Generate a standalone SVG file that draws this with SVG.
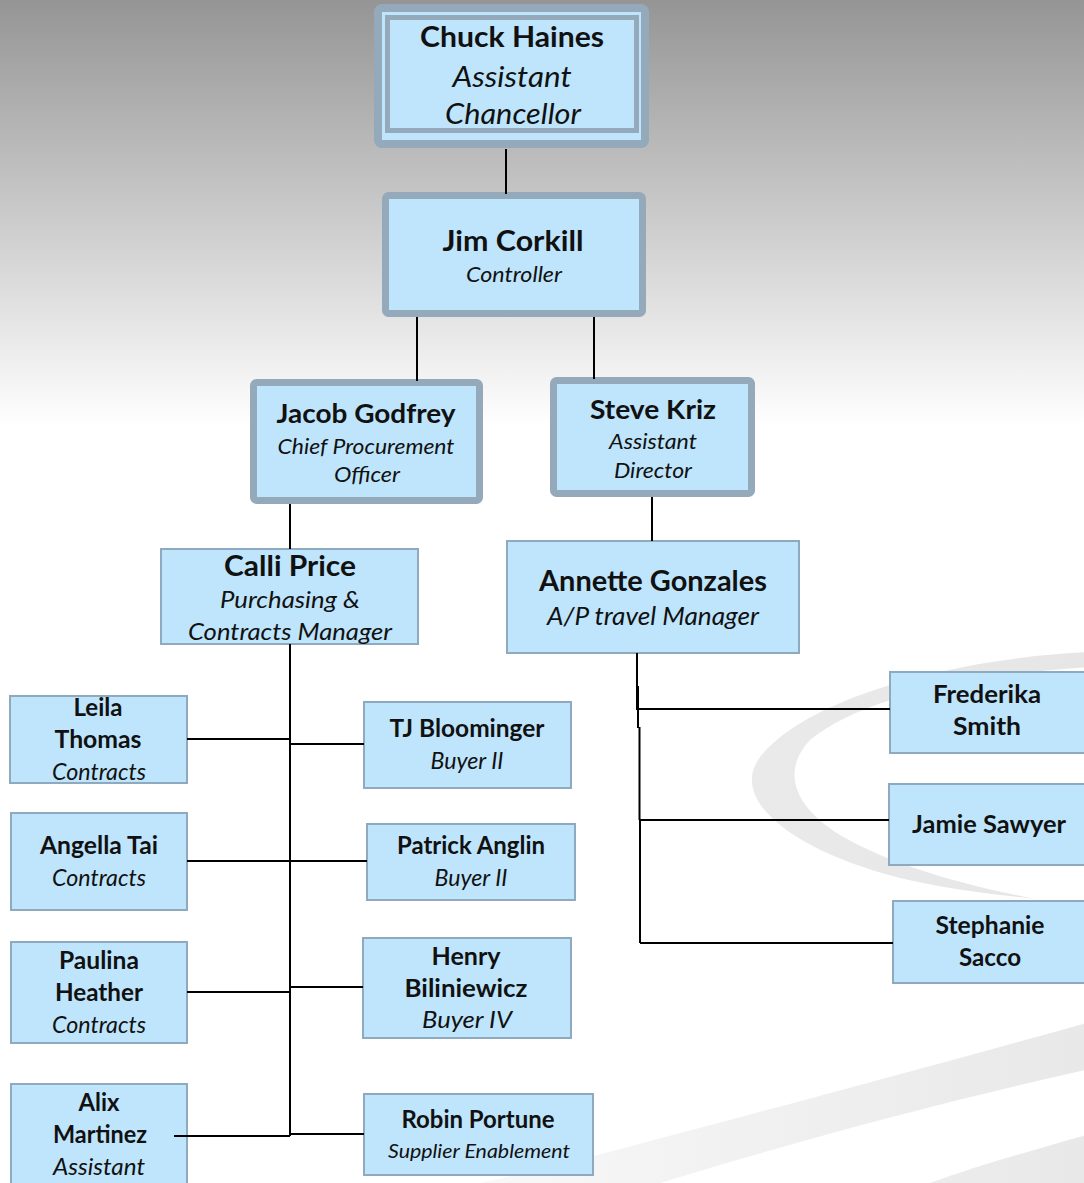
<svg xmlns="http://www.w3.org/2000/svg" width="1084" height="1183" viewBox="0 0 1084 1183">
<defs>
<linearGradient id="bg" x1="0" y1="0" x2="0" y2="1183" gradientUnits="userSpaceOnUse">
<stop offset="0" stop-color="#959595"/>
<stop offset="0.36" stop-color="#ffffff"/>
<stop offset="1" stop-color="#ffffff"/>
</linearGradient>
<linearGradient id="sw" x1="480" y1="0" x2="1090" y2="0" gradientUnits="userSpaceOnUse">
<stop offset="0" stop-color="#f8f8f8"/>
<stop offset="1" stop-color="#e8e8e8"/>
</linearGradient>
<linearGradient id="cr" x1="740" y1="0" x2="1090" y2="0" gradientUnits="userSpaceOnUse">
<stop offset="0" stop-color="#eaeaea"/>
<stop offset="1" stop-color="#e6e6e6"/>
</linearGradient>
</defs>
<style>
.box{fill:#bee5fc;stroke:#8fa9bf;stroke-width:2}
.thick{fill:#bee5fc;stroke:#94aabb;stroke-width:7}
.n{font-family:Lato,"Liberation Sans",sans-serif;font-weight:bold;fill:#111;text-anchor:middle}
.t{font-family:Lato,"Liberation Sans",sans-serif;font-style:italic;fill:#111;text-anchor:middle}
.c{fill:none;stroke:#000;stroke-width:2}
</style>
<rect x="0" y="0" width="1084" height="1183" fill="url(#bg)"/>
<g id="background">
<path d="M1090,652 C950,658 800,700 758,760 C732,800 790,850 900,878 C950,890 1000,895 1035,899 C980,888 900,870 840,835 C792,805 782,770 810,740 C860,700 960,675 1090,667 Z" fill="url(#cr)"/>
<path d="M480,1183 L560,1165 C700,1128 900,1075 1090,1022 L1090,1069 C950,1100 800,1140 660,1183 Z" fill="url(#sw)"/>
<path d="M930,1183 C980,1165 1040,1148 1090,1134 L1090,1183 Z" fill="url(#sw)"/>
</g>

<g id="node-chuck">
<rect x="378" y="8" width="267" height="136" rx="4" fill="#bee5fc" stroke="#94aabb" stroke-width="8"/>
<rect x="387.5" y="17.5" width="249" height="113" fill="#bee5fc" stroke="#94aabb" stroke-width="5"/>
<text class="n" x="512" y="47" font-size="28" textLength="184" lengthAdjust="spacingAndGlyphs">Chuck Haines</text>
<text class="t" x="512" y="87" font-size="28" textLength="119" lengthAdjust="spacingAndGlyphs">Assistant</text>
<text class="t" x="513" y="124" font-size="28" textLength="136" lengthAdjust="spacingAndGlyphs">Chancellor</text>
</g>

<g id="node-jim">
<rect class="thick" x="385.5" y="195.5" width="257" height="118" rx="3"/>
<text class="n" x="513" y="251" font-size="29" textLength="141" lengthAdjust="spacingAndGlyphs">Jim Corkill</text>
<text class="t" x="514" y="282" font-size="21" textLength="96" lengthAdjust="spacingAndGlyphs">Controller</text>
</g>

<g id="node-jacob">
<rect class="thick" x="253.5" y="382.5" width="226" height="118" rx="3"/>
<text class="n" x="366" y="423" font-size="27" textLength="179" lengthAdjust="spacingAndGlyphs">Jacob Godfrey</text>
<text class="t" x="366" y="454" font-size="21" textLength="177" lengthAdjust="spacingAndGlyphs">Chief Procurement</text>
<text class="t" x="367" y="482" font-size="21" textLength="66" lengthAdjust="spacingAndGlyphs">Officer</text>
</g>

<g id="node-steve">
<rect class="thick" x="553.5" y="380.5" width="198" height="113" rx="3"/>
<text class="n" x="653" y="419" font-size="27" textLength="126" lengthAdjust="spacingAndGlyphs">Steve Kriz</text>
<text class="t" x="653" y="449" font-size="21" textLength="88" lengthAdjust="spacingAndGlyphs">Assistant</text>
<text class="t" x="653" y="478" font-size="21" textLength="78" lengthAdjust="spacingAndGlyphs">Director</text>
</g>

<g id="node-calli">
<rect class="box" x="161" y="549" width="257" height="95"/>
<text class="n" x="290" y="576" font-size="29" textLength="132" lengthAdjust="spacingAndGlyphs">Calli Price</text>
<text class="t" x="290" y="608" font-size="23" textLength="140" lengthAdjust="spacingAndGlyphs">Purchasing &amp;</text>
<text class="t" x="290" y="640" font-size="23" textLength="204" lengthAdjust="spacingAndGlyphs">Contracts Manager</text>
</g>

<g id="node-annette">
<rect class="box" x="507" y="541" width="292" height="112"/>
<text class="n" x="653" y="591" font-size="29" textLength="228" lengthAdjust="spacingAndGlyphs">Annette Gonzales</text>
<text class="t" x="653" y="625" font-size="25" textLength="212" lengthAdjust="spacingAndGlyphs">A/P travel Manager</text>
</g>

<g id="node-leila">
<rect class="box" x="10" y="696" width="177" height="87"/>
<text class="n" x="98" y="716" font-size="24" textLength="49" lengthAdjust="spacingAndGlyphs">Leila</text>
<text class="n" x="98" y="748" font-size="24" textLength="87" lengthAdjust="spacingAndGlyphs">Thomas</text>
<text class="t" x="99" y="780" font-size="24" textLength="94" lengthAdjust="spacingAndGlyphs">Contracts</text>
</g>

<g id="node-tj">
<rect class="box" x="364" y="702" width="207" height="86"/>
<text class="n" x="467" y="737" font-size="24" textLength="155" lengthAdjust="spacingAndGlyphs">TJ Bloominger</text>
<text class="t" x="467" y="769" font-size="23" textLength="73" lengthAdjust="spacingAndGlyphs">Buyer II</text>
</g>

<g id="node-angella">
<rect class="box" x="11" y="813" width="176" height="97"/>
<text class="n" x="99" y="854" font-size="24" textLength="118" lengthAdjust="spacingAndGlyphs">Angella Tai</text>
<text class="t" x="99" y="886" font-size="24" textLength="94" lengthAdjust="spacingAndGlyphs">Contracts</text>
</g>

<g id="node-patrick">
<rect class="box" x="367" y="824" width="208" height="76"/>
<text class="n" x="471" y="854" font-size="24" textLength="148" lengthAdjust="spacingAndGlyphs">Patrick Anglin</text>
<text class="t" x="471" y="886" font-size="23" textLength="73" lengthAdjust="spacingAndGlyphs">Buyer II</text>
</g>

<g id="node-paulina">
<rect class="box" x="11" y="942" width="176" height="101"/>
<text class="n" x="99" y="969" font-size="24" textLength="80" lengthAdjust="spacingAndGlyphs">Paulina</text>
<text class="n" x="99" y="1001" font-size="24" textLength="88" lengthAdjust="spacingAndGlyphs">Heather</text>
<text class="t" x="99" y="1033" font-size="24" textLength="94" lengthAdjust="spacingAndGlyphs">Contracts</text>
</g>

<g id="node-henry">
<rect class="box" x="363" y="938" width="208" height="100"/>
<text class="n" x="466" y="965" font-size="24" textLength="69" lengthAdjust="spacingAndGlyphs">Henry</text>
<text class="n" x="466" y="997" font-size="24" textLength="123" lengthAdjust="spacingAndGlyphs">Biliniewicz</text>
<text class="t" x="467" y="1028" font-size="24" textLength="90" lengthAdjust="spacingAndGlyphs">Buyer IV</text>
</g>

<g id="node-alix">
<rect class="box" x="11" y="1084" width="176" height="110"/>
<text class="n" x="99" y="1111" font-size="24" textLength="41" lengthAdjust="spacingAndGlyphs">Alix</text>
<text class="n" x="100" y="1143" font-size="24" textLength="94" lengthAdjust="spacingAndGlyphs">Martinez</text>
<text class="t" x="99" y="1175" font-size="24" textLength="92" lengthAdjust="spacingAndGlyphs">Assistant</text>
</g>

<g id="node-robin">
<rect class="box" x="364" y="1094" width="229" height="81"/>
<text class="n" x="478" y="1128" font-size="24" textLength="153" lengthAdjust="spacingAndGlyphs">Robin Portune</text>
<text class="t" x="479" y="1158" font-size="20" textLength="182" lengthAdjust="spacingAndGlyphs">Supplier Enablement</text>
</g>

<g id="node-frederika">
<rect class="box" x="890" y="672" width="200" height="81"/>
<text class="n" x="987" y="703" font-size="24" textLength="108" lengthAdjust="spacingAndGlyphs">Frederika</text>
<text class="n" x="987" y="735" font-size="24" textLength="68" lengthAdjust="spacingAndGlyphs">Smith</text>
</g>

<g id="node-jamie">
<rect class="box" x="889" y="784" width="200" height="81"/>
<text class="n" x="989" y="833" font-size="24" textLength="154" lengthAdjust="spacingAndGlyphs">Jamie Sawyer</text>
</g>

<g id="node-stephanie">
<rect class="box" x="893" y="901" width="200" height="82"/>
<text class="n" x="990" y="934" font-size="24" textLength="109" lengthAdjust="spacingAndGlyphs">Stephanie</text>
<text class="n" x="990" y="966" font-size="24" textLength="62" lengthAdjust="spacingAndGlyphs">Sacco</text>
</g>

<g id="connectors">
<path class="c" d="M506,149 V194"/>
<path class="c" stroke-width="3" d="M417,317 V381"/>
<path class="c" stroke-width="3" d="M594,317 V379"/>
<path class="c" stroke-width="2.5" d="M290,504 V549"/>
<path class="c" stroke-width="3" d="M652,497 V541"/>
<path class="c" stroke-width="2.5" d="M290,644 V1136"/>
<path class="c" d="M187,739 H290"/>
<path class="c" d="M290,744 H364"/>
<path class="c" d="M187,861 H367"/>
<path class="c" d="M187,992 H290"/>
<path class="c" d="M290,987 H363"/>
<path class="c" d="M174,1136 H290"/>
<path class="c" d="M290,1134 H364"/>
<path class="c" d="M637,653 V710"/>
<path class="c" d="M638,709 V728"/>
<path class="c" stroke-width="3.5" d="M638,686 V710"/>
<path class="c" stroke-width="3.5" d="M639.5,727 V820"/>
<path class="c" d="M640,820 V943"/>
<path class="c" d="M637,709 H890"/>
<path class="c" d="M639,820 H889"/>
<path class="c" d="M640,943 H893"/>
</g>
</svg>
